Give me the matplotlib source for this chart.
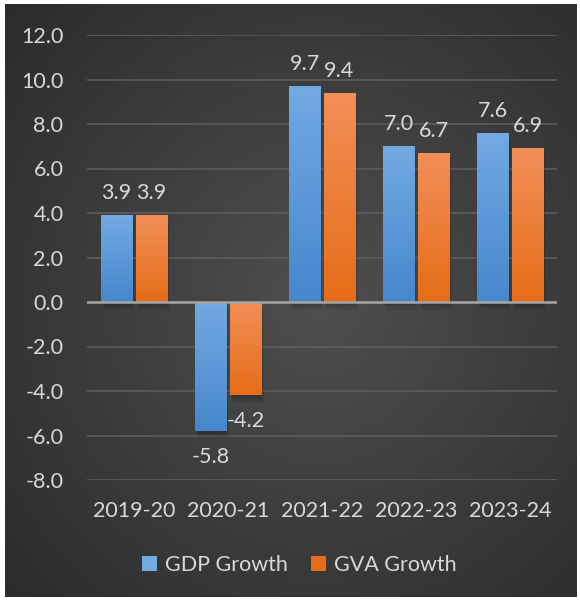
import numpy as np
import matplotlib
matplotlib.use('Agg')
import matplotlib.pyplot as plt
from matplotlib.patches import Rectangle
from matplotlib.colors import LinearSegmentedColormap

plt.rcParams['font.family'] = ['Lato', 'DejaVu Sans']

years = ['2019-20', '2020-21', '2021-22', '2022-23', '2023-24']
gdp_growth = [3.9, -5.8, 9.7, 7.0, 7.6]
gva_growth = [3.9, -4.2, 9.4, 6.7, 6.9]
series_names = ['GDP Growth', 'GVA Growth']
yticks = [-8, -6, -4, -2, 0, 2, 4, 6, 8, 10, 12]

text_col = '#d9d9d9'
fs = 15.5
blue_top, blue_bot = '#72aae2', '#4687cc'
orange_top, orange_bot = '#f28f58', '#e66d18'

fig = plt.figure(figsize=(5.8, 6.01), dpi=100, facecolor='white')

# dark radial background
bg = fig.add_axes([5 / 580, 4 / 601, 572 / 580, 593 / 601])
bg.set_axis_off()
yy, xx = np.mgrid[0:1:300j, 0:1:300j]
r = np.sqrt(((xx - 0.55) / 0.9) ** 2 + ((yy - 0.5) / 0.9) ** 2)
shade = np.clip(0.31 - 0.17 * r, 0.15, 0.32)
bg.imshow(np.dstack([shade, shade, shade]), extent=[0, 1, 0, 1], aspect='auto', origin='lower')
bg.set_xlim(0, 1)
bg.set_ylim(0, 1)

ax = fig.add_axes([87 / 580, 1 - 480 / 601, 470 / 580, 445 / 601])
ax.patch.set_alpha(0)
ax.set_xlim(-0.5, 4.5)
ax.set_ylim(-8, 12)
for s in ax.spines.values():
    s.set_visible(False)
ax.set_yticks(yticks)
ax.set_yticklabels(['%.1f' % t for t in yticks])
ax.set_xticks(range(len(years)))
ax.set_xticklabels(years)
ax.tick_params(axis='y', length=0, pad=17, labelsize=fs, labelcolor=text_col)
ax.tick_params(axis='x', length=0, pad=15, labelsize=fs, labelcolor=text_col)
for t in yticks:
    if t != 0:
        ax.axhline(t, color='#5a5a5a', lw=1.3, zorder=0)

width = 0.33
offset = 0.186


def gradient_bar(x, h, c_top, c_bot):
    x0 = x - width / 2
    y0, y1 = min(0, h), max(0, h)
    # soft shadow
    for k, a in enumerate([0.10, 0.08, 0.06]):
        d = 0.012 * (k + 1)
        sh = Rectangle((x0 + d, y0 - 0.12 * (k + 1)), width, y1 - y0,
                       facecolor='black', edgecolor='none', alpha=a, zorder=1)
        ax.add_patch(sh)
    rect = Rectangle((x0, y0), width, y1 - y0, facecolor='none', edgecolor='none', zorder=2)
    ax.add_patch(rect)
    cmap = LinearSegmentedColormap.from_list('g', [c_bot, c_top])
    grad = np.linspace(0, 1, 100).reshape(-1, 1)
    im = ax.imshow(grad, cmap=cmap, extent=[x0, x0 + width, y0, y1],
                   origin='lower', aspect='auto', zorder=2)
    im.set_clip_path(rect)


for i in range(len(years)):
    gradient_bar(i - offset, gdp_growth[i], blue_top, blue_bot)
    gradient_bar(i + offset, gva_growth[i], orange_top, orange_bot)
    for x, v in [(i - offset, gdp_growth[i]), (i + offset, gva_growth[i])]:
        if v >= 0:
            ax.text(x, v + 0.55, '%.1f' % v, ha='center', va='bottom',
                    color=text_col, fontsize=fs, zorder=4)
        else:
            ax.text(x, v - 0.7, '%.1f' % v, ha='center', va='top',
                    color=text_col, fontsize=fs, zorder=4)

ax.axhline(0, color='#a6a6a6', lw=1.8, zorder=3)
ax.set_xlim(-0.5, 4.5)
ax.set_ylim(-8, 12)

handles = [Rectangle((0, 0), 1, 1, facecolor=blue_top, edgecolor='none'),
           Rectangle((0, 0), 1, 1, facecolor=orange_bot, edgecolor='none')]
leg = fig.legend(handles, series_names, loc='center', bbox_to_anchor=(0.516, 1 - 565 / 601),
                 ncol=2, frameon=False, fontsize=fs, handlelength=0.7, handleheight=0.7,
                 handletextpad=0.35, columnspacing=1.1)
for t in leg.get_texts():
    t.set_color(text_col)

fig.savefig('out.png', dpi=100, facecolor='white')
